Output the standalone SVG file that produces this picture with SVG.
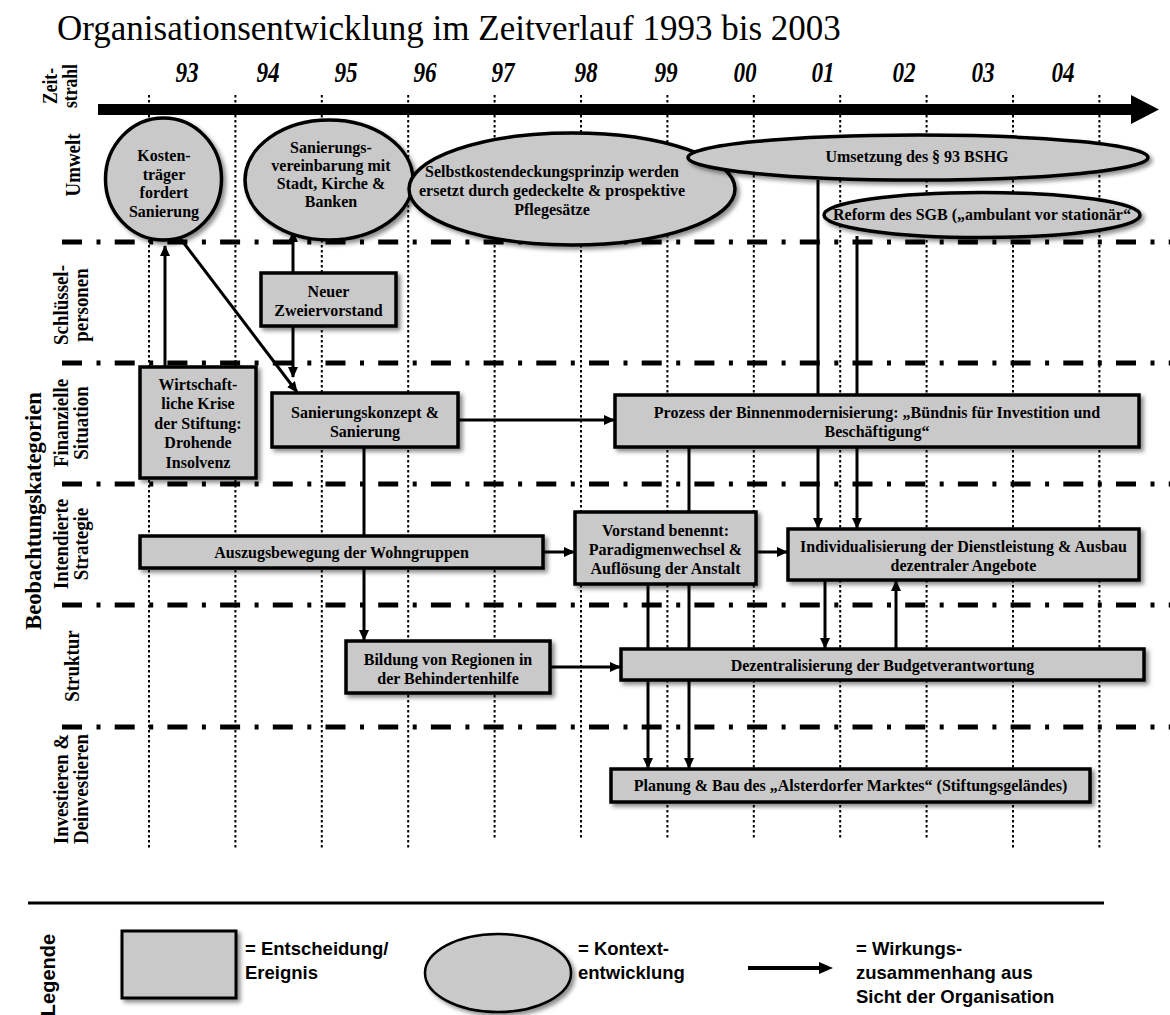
<svg xmlns="http://www.w3.org/2000/svg" width="1170" height="1015" viewBox="0 0 1170 1015">
<style>
.ttl{font-family:"Liberation Serif","Times New Roman",serif;font-size:35px;fill:#000}
.yr{font-family:"Liberation Serif","Times New Roman",serif;font-size:29px;font-weight:bold;font-style:italic;text-anchor:middle;fill:#000}
.rl{font-family:"Liberation Serif","Times New Roman",serif;font-size:22px;font-weight:bold;text-anchor:middle;fill:#000}
.bt{font-family:"Liberation Serif","Times New Roman",serif;font-size:16px;font-weight:bold;text-anchor:middle;fill:#000}
.lg{font-family:"Liberation Sans",Arial,sans-serif;font-size:18.5px;font-weight:bold;fill:#000}
.grid{stroke:#000;stroke-width:2;stroke-dasharray:2.5 2.5;fill:none}
.sep{stroke:#000;stroke-width:5;stroke-dasharray:20 14.5 4 14.2;fill:none}
.box{fill:#c9c9c9;stroke:#000;stroke-width:3.5;filter:url(#sh)}
.ell{fill:#c9c9c9;stroke:#000;stroke-width:3.5;filter:url(#sh)}
.con{stroke:#000;stroke-width:3;fill:none;marker-end:url(#ah)}
</style>
<defs>
<filter id="sh" x="-10%" y="-20%" width="125%" height="150%">
<feDropShadow dx="3" dy="3" stdDeviation="2" flood-color="#000" flood-opacity="0.45"/>
</filter>
<marker id="ah" markerUnits="userSpaceOnUse" markerWidth="11" markerHeight="10" refX="10" refY="5" orient="auto">
<path d="M0,0 L11,5 L0,10 Z" fill="#000"/>
</marker>
</defs>

<text class="ttl" x="57" y="40">Organisationsentwicklung im Zeitverlauf 1993 bis 2003</text>

<g id="years">
<text class="yr" transform="translate(187 82) scale(0.8 1)">93</text>
<text class="yr" transform="translate(268 82) scale(0.8 1)">94</text>
<text class="yr" transform="translate(346 82) scale(0.8 1)">95</text>
<text class="yr" transform="translate(425 82) scale(0.8 1)">96</text>
<text class="yr" transform="translate(503 82) scale(0.8 1)">97</text>
<text class="yr" transform="translate(586 82) scale(0.8 1)">98</text>
<text class="yr" transform="translate(666 82) scale(0.8 1)">99</text>
<text class="yr" transform="translate(745 82) scale(0.8 1)">00</text>
<text class="yr" transform="translate(823 82) scale(0.8 1)">01</text>
<text class="yr" transform="translate(904 82) scale(0.8 1)">02</text>
<text class="yr" transform="translate(983 82) scale(0.8 1)">03</text>
<text class="yr" transform="translate(1063 82) scale(0.8 1)">04</text>
</g>

<g id="grid">
<line class="grid" x1="149" y1="95" x2="149" y2="848"/>
<line class="grid" x1="235.4" y1="95" x2="235.4" y2="848"/>
<line class="grid" x1="321.8" y1="95" x2="321.8" y2="848"/>
<line class="grid" x1="408.2" y1="95" x2="408.2" y2="848"/>
<line class="grid" x1="494.6" y1="95" x2="494.6" y2="838"/>
<line class="grid" x1="581" y1="95" x2="581" y2="838"/>
<line class="grid" x1="667.4" y1="95" x2="667.4" y2="838"/>
<line class="grid" x1="753.8" y1="95" x2="753.8" y2="838"/>
<line class="grid" x1="840.2" y1="95" x2="840.2" y2="838"/>
<line class="grid" x1="926.6" y1="95" x2="926.6" y2="838"/>
<line class="grid" x1="1013" y1="95" x2="1013" y2="848"/>
<line class="grid" x1="1099.4" y1="95" x2="1099.4" y2="848"/>
<line class="sep" x1="62" y1="242" x2="1170" y2="242"/>
<line class="sep" x1="62" y1="363" x2="1170" y2="363"/>
<line class="sep" x1="62" y1="484" x2="1170" y2="484"/>
<line class="sep" x1="62" y1="605" x2="1170" y2="605"/>
<line class="sep" x1="62" y1="727" x2="1170" y2="727"/>
</g>

<g id="timeline">
<path d="M98,104 H1131 V95 L1159,109.5 L1131,124 V115 H98 Z" fill="#000"/>
</g>

<g id="row-labels">
<text class="rl" transform="translate(41 511) rotate(-90)" style="font-size:22.5px">Beobachtungskategorien</text>
<text class="rl" transform="translate(57 86) rotate(-90) scale(0.8 1)"><tspan x="0" y="0">Zeit-</tspan><tspan x="0" y="20">strahl</tspan></text>
<text class="rl" transform="translate(80 165) rotate(-90) scale(0.86 1)">Umwelt</text>
<text class="rl" transform="translate(68 305) rotate(-90) scale(0.86 1)"><tspan x="0" y="0">Schlüssel-</tspan><tspan x="0" y="20">personen</tspan></text>
<text class="rl" transform="translate(68 423) rotate(-90) scale(0.86 1)"><tspan x="0" y="0">Finanzielle</tspan><tspan x="0" y="20">Situation</tspan></text>
<text class="rl" transform="translate(68 544) rotate(-90) scale(0.86 1)"><tspan x="0" y="0">Intendierte</tspan><tspan x="0" y="20">Strategie</tspan></text>
<text class="rl" transform="translate(79 666) rotate(-90) scale(0.86 1)">Struktur</text>
<text class="rl" transform="translate(68 789) rotate(-90) scale(0.86 1)"><tspan x="0" y="0">Investieren &amp;</tspan><tspan x="0" y="20">Deinvestieren</tspan></text>
</g>

<g id="connectors">
<line class="con" x1="165" y1="367" x2="165" y2="246"/>
<line class="con" x1="180" y1="238" x2="297" y2="392"/>
<line class="con" x1="293" y1="273" x2="293" y2="232"/>
<line class="con" x1="293" y1="326" x2="293" y2="377"/>
<line class="con" x1="458" y1="420" x2="614" y2="420"/>
<line class="con" x1="364" y1="447" x2="364" y2="640"/>
<line class="con" x1="543" y1="552" x2="574" y2="552"/>
<line class="con" x1="756" y1="552" x2="787" y2="552"/>
<line class="con" x1="550" y1="667" x2="620" y2="667"/>
<line class="con" x1="818" y1="180" x2="818" y2="528"/>
<line class="con" x1="857" y1="236" x2="857" y2="528"/>
<line class="con" x1="689" y1="447" x2="689" y2="768"/>
<line class="con" x1="648" y1="584" x2="648" y2="768"/>
<line class="con" x1="825" y1="580" x2="825" y2="648"/>
<line class="con" x1="896" y1="649" x2="896" y2="581"/>
</g>

<g id="n-kostentraeger">
<ellipse class="ell" cx="163.5" cy="179" rx="58" ry="61"/>
<text class="bt"><tspan x="164" y="161">Kosten-</tspan><tspan x="164" y="179.5">träger</tspan><tspan x="164" y="198">fordert</tspan><tspan x="164" y="216.5">Sanierung</tspan></text>
</g>
<g id="n-sanierungsvereinbarung">
<ellipse class="ell" cx="329" cy="180" rx="84" ry="60"/>
<text class="bt"><tspan x="331" y="152.5">Sanierungs-</tspan><tspan x="331" y="170.8">vereinbarung mit</tspan><tspan x="331" y="189.1">Stadt, Kirche &amp;</tspan><tspan x="331" y="207.4">Banken</tspan></text>
</g>
<g id="n-selbstkosten">
<ellipse class="ell" cx="572" cy="189" rx="163" ry="56"/>
<text class="bt"><tspan x="552" y="177">Selbstkostendeckungsprinzip werden</tspan><tspan x="552" y="196">ersetzt durch gedeckelte &amp; prospektive</tspan><tspan x="552" y="215">Pflegesätze</tspan></text>
</g>
<g id="n-bshg">
<ellipse class="ell" cx="918" cy="157.5" rx="230" ry="22.5"/>
<text class="bt" x="917" y="162">Umsetzung des § 93 BSHG</text>
</g>
<g id="n-sgb">
<ellipse class="ell" cx="982" cy="215" rx="158" ry="22.5"/>
<text class="bt" x="982" y="220">Reform des SGB („ambulant vor stationär“</text>
</g>

<g id="n-zweiervorstand">
<rect class="box" x="261" y="273" width="135" height="53"/>
<text class="bt"><tspan x="328.5" y="297">Neuer</tspan><tspan x="328.5" y="316">Zweiervorstand</tspan></text>
</g>
<g id="n-krise">
<rect class="box" x="140" y="367" width="116" height="111"/>
<text class="bt"><tspan x="198" y="390">Wirtschaft-</tspan><tspan x="198" y="409.4">liche Krise</tspan><tspan x="198" y="428.8">der Stiftung:</tspan><tspan x="198" y="448.2">Drohende</tspan><tspan x="198" y="467.6">Insolvenz</tspan></text>
</g>
<g id="n-sanierungskonzept">
<rect class="box" x="272" y="393" width="186" height="54"/>
<text class="bt"><tspan x="365" y="418">Sanierungskonzept &amp;</tspan><tspan x="365" y="437">Sanierung</tspan></text>
</g>
<g id="n-binnenmodernisierung">
<rect class="box" x="615" y="395" width="524" height="52"/>
<text class="bt"><tspan x="877" y="418">Prozess der Binnenmodernisierung: „Bündnis für Investition und</tspan><tspan x="877" y="437">Beschäftigung“</tspan></text>
</g>
<g id="n-auszugsbewegung">
<rect class="box" x="140" y="536" width="403" height="32"/>
<text class="bt" x="341.5" y="558">Auszugsbewegung der Wohngruppen</text>
</g>
<g id="n-vorstand">
<rect class="box" x="575" y="512" width="181" height="72"/>
<text class="bt"><tspan x="665.5" y="536">Vorstand benennt:</tspan><tspan x="665.5" y="555">Paradigmenwechsel &amp;</tspan><tspan x="665.5" y="574">Auflösung der Anstalt</tspan></text>
</g>
<g id="n-individualisierung">
<rect class="box" x="788" y="529" width="351" height="51"/>
<text class="bt"><tspan x="963.5" y="552">Individualisierung der Dienstleistung &amp; Ausbau</tspan><tspan x="963.5" y="571">dezentraler Angebote</tspan></text>
</g>
<g id="n-regionen">
<rect class="box" x="346" y="641" width="204" height="52"/>
<text class="bt"><tspan x="448" y="665">Bildung von Regionen in</tspan><tspan x="448" y="684">der Behindertenhilfe</tspan></text>
</g>
<g id="n-budget">
<rect class="box" x="621" y="649" width="523" height="31"/>
<text class="bt" x="882.5" y="671">Dezentralisierung der Budgetverantwortung</text>
</g>
<g id="n-alsterdorf">
<rect class="box" x="611" y="769" width="479" height="33"/>
<text class="bt" x="850.5" y="791">Planung &amp; Bau des „Alsterdorfer Marktes“ (Stiftungsgeländes)</text>
</g>

<g id="legend">
<line x1="28" y1="903" x2="1104" y2="903" stroke="#000" stroke-width="3"/>
<text class="lg" transform="translate(55 975) rotate(-90)" style="font-size:20px;text-anchor:middle">Legende</text>
<rect x="122" y="931" width="114" height="67" fill="#c9c9c9" stroke="#000" stroke-width="3" filter="url(#sh)"/>
<text class="lg" x="245" y="955">= Entscheidung/</text>
<text class="lg" x="245" y="979">Ereignis</text>
<ellipse cx="498" cy="973" rx="73" ry="39" fill="#c9c9c9" stroke="#000" stroke-width="2.5" filter="url(#sh)"/>
<text class="lg" x="578" y="955">= Kontext-</text>
<text class="lg" x="578" y="979">entwicklung</text>
<line x1="748" y1="968" x2="820" y2="968" stroke="#000" stroke-width="4"/>
<path d="M819,962 L833,968 L819,974 Z" fill="#000"/>
<text class="lg" x="856" y="955">= Wirkungs-</text>
<text class="lg" x="856" y="979">zusammenhang aus</text>
<text class="lg" x="856" y="1003">Sicht der Organisation</text>
</g>
</svg>
